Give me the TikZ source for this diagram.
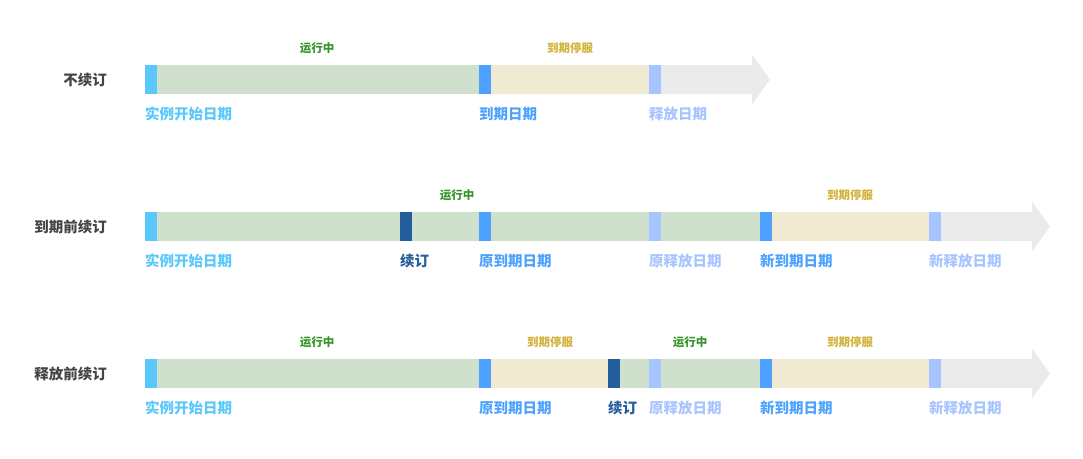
\documentclass[tikz,border=0pt]{standalone}
\usepackage{fontspec}
\setmainfont{Noto Sans CJK SC}
\usepackage{xcolor}
\usepackage{tikz}
\usetikzlibrary{positioning,calc}

\definecolor{startblue}{HTML}{5AC8FA}
\definecolor{endblue}{HTML}{4DA1FF}
\definecolor{relblue}{HTML}{A6C4FF}
\definecolor{renewblue}{HTML}{245D9C}
\definecolor{runfill}{HTML}{CFE0CC}
\definecolor{stopfill}{HTML}{F0EAD2}
\definecolor{restfill}{HTML}{EBEBEB}
\definecolor{runtext}{HTML}{36962A}
\definecolor{stoptext}{HTML}{D2B23A}
\definecolor{rowtext}{HTML}{444444}

\tikzset{
    datebar/.style={fill=#1, minimum width=11.5pt, minimum height=29pt, inner sep=0pt, anchor=west},
    datelabel/.style={text=#1, font=\fontsize{14.5pt}{17pt}\selectfont\bfseries, inner sep=0pt, anchor=west},
    phase/.style={text=#1, font=\fontsize{11.5pt}{13pt}\selectfont\bfseries, inner sep=0pt},
    rowname/.style={text=rowtext, font=\fontsize{14.5pt}{17pt}\selectfont\bfseries, inner sep=0pt, anchor=east}
}

\begin{document}
\begin{tikzpicture}[x=1pt, y=-1pt]
    \useasboundingbox (0,0) rectangle (1083,458);

    % Row 1: no renewal
    \fill [restfill] (145,65) -- (752,65) -- (752,54.5) -- (770,79.5) -- (752,104.5) -- (752,94) -- (145,94) -- cycle;
    \fill [runfill] (145,65) rectangle (479,94);
    \fill [stopfill] (479,65) rectangle (649,94);
    \node [rowname] (n1) at (107,79.5) {不续订};
    \foreach \n/\x/\c/\t in {s/145/startblue/实例开始日期, e/479/endblue/到期日期, r/649/relblue/释放日期} {
        \node [datebar=\c] (a\n) at (\x,79.5) {};
        \node [datelabel=\c] (b\n) at ([yshift=-19.5pt]a\n.south west) {\t};
    }
    \node [phase=runtext] (p1) at (317,48) {运行中};
    \node [phase=stoptext] (p2) at (570,48) {到期停服};

    % Row 2: renew before expiry
    \fill [restfill] (145,212) -- (1032,212) -- (1032,201.5) -- (1050,226.5) -- (1032,251.5) -- (1032,241) -- (145,241) -- cycle;
    \fill [runfill] (145,212) rectangle (760,241);
    \fill [stopfill] (760,212) rectangle (929,241);
    \node [rowname] (n2) at (107,226.5) {到期前续订};
    \foreach \n/\x/\c/\t in {s/145/startblue/实例开始日期, k/400/renewblue/续订, e/479/endblue/原到期日期, r/649/relblue/原释放日期, f/760/endblue/新到期日期, g/929/relblue/新释放日期} {
        \node [datebar=\c] (c\n) at (\x,226.5) {};
        \node [datelabel=\c] (d\n) at ([yshift=-19.5pt]c\n.south west) {\t};
    }
    \node [phase=runtext] (p3) at (457,195) {运行中};
    \node [phase=stoptext] (p4) at (850,195) {到期停服};

    % Row 3: renew before release
    \fill [restfill] (145,359) -- (1032,359) -- (1032,348.5) -- (1050,373.5) -- (1032,398.5) -- (1032,388) -- (145,388) -- cycle;
    \fill [runfill] (145,359) rectangle (479,388);
    \fill [stopfill] (479,359) rectangle (608,388);
    \fill [runfill] (608,359) rectangle (760,388);
    \fill [stopfill] (760,359) rectangle (929,388);
    \node [rowname] (n3) at (107,373.5) {释放前续订};
    \foreach \n/\x/\c/\t in {s/145/startblue/实例开始日期, e/479/endblue/原到期日期, k/608/renewblue/续订, r/649/relblue/原释放日期, f/760/endblue/新到期日期, g/929/relblue/新释放日期} {
        \node [datebar=\c] (m\n) at (\x,373.5) {};
        \node [datelabel=\c] (l\n) at ([yshift=-19.5pt]m\n.south west) {\t};
    }
    \node [phase=runtext] (p5) at (317,342) {运行中};
    \node [phase=stoptext] (p6) at (550,342) {到期停服};
    \node [phase=runtext] (p7) at (690,342) {运行中};
    \node [phase=stoptext] (p8) at (850,342) {到期停服};
\end{tikzpicture}
\end{document}
